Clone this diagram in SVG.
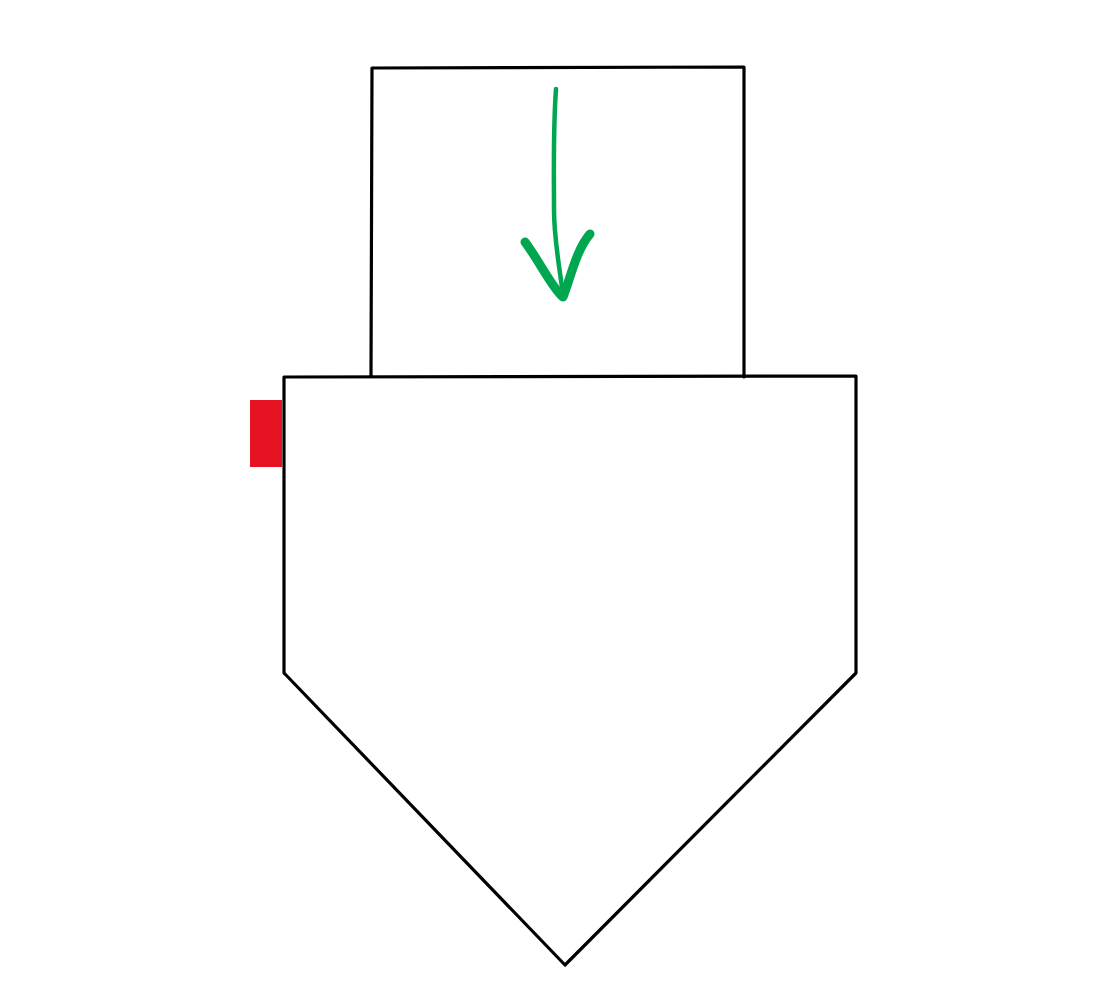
<svg xmlns="http://www.w3.org/2000/svg" width="1118" height="1006" viewBox="0 0 1118 1006">
<style>
.ln{fill:none;stroke:#000;stroke-width:3.2;stroke-linecap:round;stroke-linejoin:round}
.gr{fill:none;stroke:#00A650;stroke-linecap:round;stroke-linejoin:round}
</style>
<rect width="1118" height="1006" fill="#fff"/>
<g id="top-box">
<path class="ln" d="M372 68 L744 67 M372 68 L371 376 M744 67 L744 377"/>
</g>
<g id="pentagon">
<path class="ln" d="M284 377 L856 376 L856 673 L565 965 L286 675 L284 673 Z"/>
</g>
<g id="red-tab">
<rect x="250" y="400" width="32" height="67" fill="#E61423"/>
</g>
<g id="connectors">
<path class="gr" stroke-width="4.5" d="M556 89 C553 130 554 170 554 210 C554 240 560 270 563 295"/>
<path class="gr" stroke-width="9" d="M525 242 C540 262 552 288 563 297 C570 280 576 250 590 234"/>
</g>
</svg>
